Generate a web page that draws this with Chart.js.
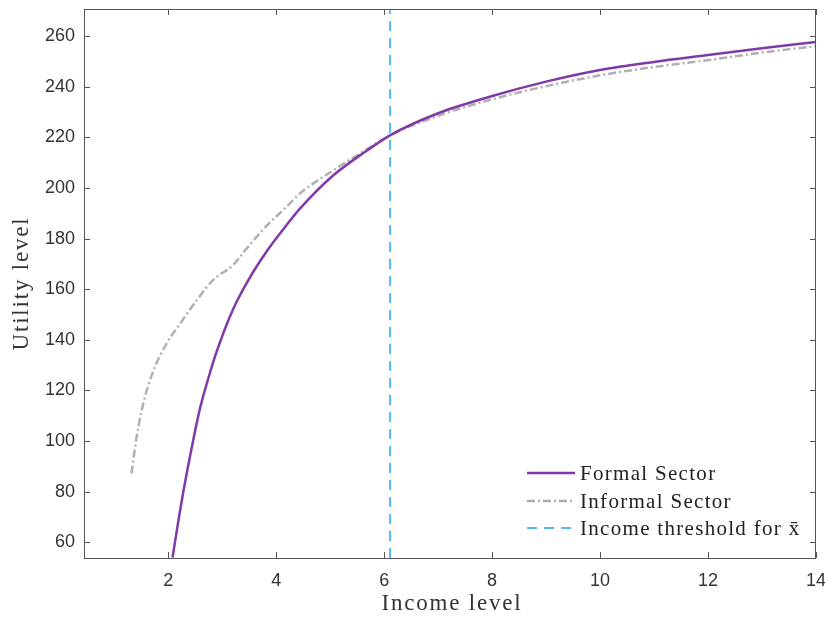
<!DOCTYPE html>
<html>
<head>
<meta charset="utf-8">
<script src="https://cdn.jsdelivr.net/npm/chart.js@4.4.0/dist/chart.umd.min.js"></script>
<style>
  html, body { margin: 0; padding: 0; background: #fff; }
  #wrap { width: 825px; height: 617px; }
</style>
</head>
<body>
<div id="wrap"><canvas id="chart" width="825" height="617"></canvas></div>
<script>
// Values
const incomeFormal  = [2.08, 2.20, 2.28, 2.46, 2.59, 2.76, 2.90, 3.20, 3.51, 3.82, 4.13, 4.44, 5.06, 5.67, 6.11, 7, 8, 9, 10, 11, 12, 13, 14];
const utilityFormal = [54, 70, 80, 100, 113, 126, 135.5, 152, 164.5, 174.8, 183.6, 191.8, 205, 214.6, 220.8, 229.5, 236.3, 242, 246.6, 249.8, 252.5, 255.2, 257.7];

const incomeInformal  = [1.32, 1.41, 1.54, 1.72, 1.97, 2.22, 2.53, 2.83, 3.20, 3.45, 3.82, 4.19, 4.44, 5.06, 5.55, 6.11, 7, 8, 9, 10, 11, 12, 13, 14];
const utilityInformal = [87.2, 101, 115, 127.5, 138.5, 146.4, 155.7, 163.6, 169.5, 176, 185, 192.5, 197.8, 207, 213.6, 220.8, 228.5, 235, 240.2, 244.5, 247.8, 250.5, 253.5, 256];

const thresholdX = 6.11;
const xTicks = [2, 4, 6, 8, 10, 12, 14];
const yTicks = [60, 80, 100, 120, 140, 160, 180, 200, 220, 240, 260];
const xRange = [0.44, 14];
const yRange = [53.8, 270.7];

const seriesLabels = ['Formal Sector', 'Informal Sector', 'Income threshold for x\u0304'];
const xTitle = 'Income level';
const yTitle = 'Utility level';

const PURPLE = 'rgb(128, 58, 168)';
const GRAY = 'rgb(176, 176, 176)';
const BLUE = 'rgb(84, 185, 240)';
const AXIS = '#555';
const SERIF = '"Liberation Serif", "DejaVu Serif", serif';
const SANS = 'Arial, "Liberation Sans", sans-serif';

function toPoints(xs, ys) {
    return xs.map((x, i) => ({ x: x, y: ys[i] }));
}

// inward ticks on all four sides + box
const boxTicks = {
    id: 'boxTicks',
    afterDatasetsDraw(chart) {
        const { ctx, chartArea: a, scales } = chart;
        ctx.save();
        ctx.strokeStyle = AXIS;
        ctx.lineWidth = 1;
        ctx.strokeRect(a.left + 0.5, a.top + 0.5, a.right - a.left - 1, a.bottom - a.top);
        ctx.beginPath();
        xTicks.forEach(v => {
            const px = Math.round(scales.x.getPixelForValue(v)) + 0.5;
            ctx.moveTo(px, a.bottom); ctx.lineTo(px, a.bottom - 6);
            ctx.moveTo(px, a.top); ctx.lineTo(px, a.top + 6);
        });
        yTicks.forEach(v => {
            const py = Math.round(scales.y.getPixelForValue(v)) + 0.5;
            ctx.moveTo(a.left, py); ctx.lineTo(a.left + 6, py);
            ctx.moveTo(a.right, py); ctx.lineTo(a.right - 6, py);
        });
        ctx.stroke();
        ctx.restore();
    }
};

// axis titles and legend drawn in serif with wider spacing (LaTeX look)
const serifText = {
    id: 'serifText',
    afterDraw(chart) {
        const { ctx, chartArea: a } = chart;
        ctx.save();
        ctx.fillStyle = '#333';
        ctx.textAlign = 'center';
        ctx.textBaseline = 'middle';
        ctx.font = '23px ' + SERIF;
        ctx.letterSpacing = '1.8px';
        ctx.fillText(xTitle, (a.left + a.right) / 2 + 2, 604);
        ctx.save();
        ctx.translate(22, (a.top + a.bottom) / 2);
        ctx.rotate(-Math.PI / 2);
        ctx.fillText(yTitle, 0, 0);
        ctx.restore();

        const x0 = 527, x1 = 575, tx = 580;
        const rows = [473, 501, 528];
        ctx.font = '21px ' + SERIF;
        ctx.letterSpacing = '1.3px';
        ctx.textAlign = 'left';
        ctx.fillStyle = '#222';
        chart.data.datasets.forEach((ds, i) => {
            ctx.beginPath();
            ctx.strokeStyle = ds.borderColor;
            ctx.lineWidth = ds.borderWidth;
            ctx.setLineDash(ds.borderDash || []);
            ctx.moveTo(x0, rows[i]);
            ctx.lineTo(x1, rows[i]);
            ctx.stroke();
            ctx.setLineDash([]);
            ctx.fillText(ds.label, tx, rows[i] + 1);
        });
        ctx.restore();
    }
};

const ctx = document.getElementById('chart').getContext('2d');
const chart = new Chart(ctx, {
    type: 'scatter',
    data: {
        datasets: [
            {
                label: seriesLabels[0],
                data: toPoints(incomeFormal, utilityFormal),
                showLine: true,
                borderColor: PURPLE,
                borderWidth: 2.5,
                pointRadius: 0,
                cubicInterpolationMode: 'monotone'
            },
            {
                label: seriesLabels[1],
                data: toPoints(incomeInformal, utilityInformal),
                showLine: true,
                borderColor: GRAY,
                borderWidth: 2.5,
                borderDash: [8, 3, 2, 3],
                pointRadius: 0,
                cubicInterpolationMode: 'monotone'
            },
            {
                label: seriesLabels[2],
                data: [{ x: thresholdX, y: yRange[0] }, { x: thresholdX, y: yRange[1] }],
                showLine: true,
                borderColor: BLUE,
                borderWidth: 2,
                borderDash: [10, 7],
                pointRadius: 0
            }
        ]
    },
    options: {
        responsive: false,
        animation: false,
        layout: { padding: { top: 9, right: 9, left: 0, bottom: 0 } },
        plugins: {
            legend: { display: false },
            tooltip: { enabled: false }
        },
        scales: {
            x: {
                type: 'linear',
                min: xRange[0],
                max: xRange[1],
                grid: { display: false, drawTicks: false },
                border: { display: false },
                afterBuildTicks: s => { s.ticks = xTicks.map(v => ({ value: v })); },
                afterFit: s => { s.height = 59; s.paddingLeft = 0; s.paddingRight = 0; },
                ticks: {
                    color: '#333',
                    font: { family: SANS, size: 18 },
                    padding: 12,
                    maxRotation: 0
                }
            },
            y: {
                type: 'linear',
                min: yRange[0],
                max: yRange[1],
                grid: { display: false, drawTicks: false },
                border: { display: false },
                afterBuildTicks: s => { s.ticks = yTicks.map(v => ({ value: v })); },
                afterFit: s => { s.width = 84; s.paddingTop = 0; s.paddingBottom = 0; },
                ticks: {
                    color: '#333',
                    font: { family: SANS, size: 18 },
                    padding: 9
                }
            }
        }
    },
    plugins: [boxTicks, serifText]
});
</script>
</body>
</html>
